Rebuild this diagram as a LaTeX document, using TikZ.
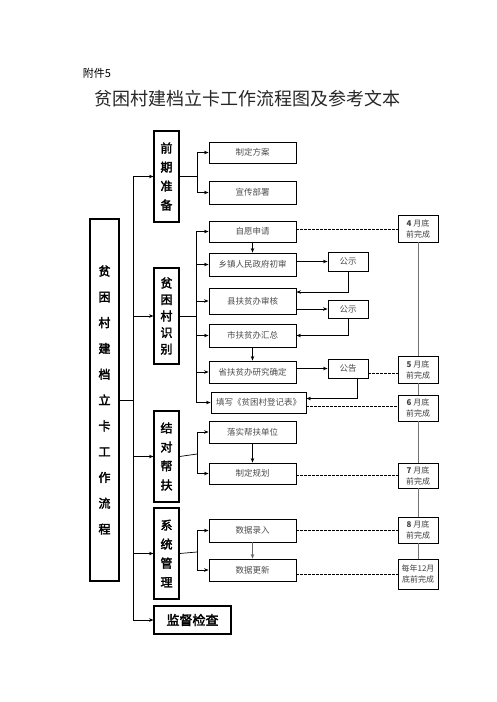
\documentclass[tikz,border=0pt]{standalone}
\usepackage{fontspec}
\newfontfamily\cjk{Noto Sans CJK SC}
\newfontfamily\cjkb[FakeBold=2.5]{Noto Sans CJK SC}
\usetikzlibrary{arrows.meta,calc}
\begin{document}
\begin{tikzpicture}[x=1pt,y=-1pt,
  stagebox/.style={draw,line width=1.1pt,inner sep=0pt,align=center,minimum width=25pt},
  subbox/.style={draw,line width=0.9pt,inner sep=0pt,minimum width=87pt,text=black!70,font=\cjk\fontsize{8.5}{10}\selectfont},
  notebox/.style={draw,line width=0.9pt,inner sep=0pt,minimum width=40pt,text=black!70,font=\cjk\fontsize{8.5}{10}\selectfont},
  timebox/.style={draw,line width=0.9pt,inner sep=0pt,minimum width=40pt,align=center,text=black!75,font=\cjk\fontsize{8}{11}\selectfont},
  conn/.style={line width=0.7pt},
  arr/.style={line width=0.7pt,-{Stealth[length=4.5pt,width=3.5pt]}},
  dashline/.style={line width=0.8pt,dash pattern=on 2.5pt off 1.5pt},
  tline/.style={line width=1pt,black!55}]
\useasboundingbox (0,0) rectangle (496,702);
% header
\node[font=\cjk\fontsize{11}{13}\selectfont] (hdr) at (97,73) {附件5};
\node[font=\cjk\fontsize{18}{20}\selectfont,text=black!85] (title) at (247,99) {贫困村建档立卡工作流程图及参考文本};
% main box
\node[stagebox,minimum width=29pt,minimum height=362pt,font=\cjkb\fontsize{12}{25.8}\selectfont] (big) at (104.5,400) {贫\\困\\村\\建\\档\\立\\卡\\工\\作\\流\\程};
% stages
\node[stagebox,minimum height=91pt,font=\cjkb\fontsize{12}{19}\selectfont] (s1) at (166.5,176.5) {前\\期\\准\\备};
\node[stagebox,minimum height=96pt,font=\cjkb\fontsize{12}{16.5}\selectfont] (s2) at (166.5,316) {贫\\困\\村\\识\\别};
\node[stagebox,minimum height=91pt,font=\cjkb\fontsize{12}{19}\selectfont] (s3) at (166.5,456.5) {结\\对\\帮\\扶};
\node[stagebox,minimum height=91pt,font=\cjkb\fontsize{12}{19}\selectfont] (s4) at (166.5,553.5) {系\\统\\管\\理};
\node[stagebox,minimum width=77pt,minimum height=28pt,font=\cjkb\fontsize{13}{15}\selectfont] (s5) at (192.5,620) {监督检查};
% sub boxes
\node[subbox,minimum height=21pt] (a1) at (252.5,152.5) {制定方案};
\node[subbox,minimum height=23pt] (a2) at (252.5,192.5) {宣传部署};
\node[subbox,minimum height=21pt] (b1) at (252.5,231.5) {自愿申请};
\node[subbox,minimum height=23pt] (b2) at (252.5,264.5) {乡镇人民政府初审};
\node[subbox,minimum height=26pt] (b3) at (252.5,301) {县扶贫办审核};
\node[subbox,minimum height=23pt] (b4) at (252.5,335.5) {市扶贫办汇总};
\node[subbox,minimum height=22pt] (b5) at (252.5,372) {省扶贫办研究确定};
\node[subbox,minimum width=95pt,minimum height=21pt] (b6) at (258.5,402.5) {填写《贫困村登记表》};
\node[subbox,minimum height=22pt] (c1) at (252.5,432) {落实帮扶单位};
\node[subbox,minimum height=21pt] (c2) at (252.5,473.5) {制定规划};
\node[subbox,minimum height=23pt] (d1) at (252.5,530.5) {数据录入};
\node[subbox,minimum height=22pt] (d2) at (252.5,570) {数据更新};
% notices
\node[notebox,minimum height=19pt] (p1) at (348,261.5) {公示};
\node[notebox,minimum height=18pt] (p2) at (348,309) {公示};
\node[notebox,minimum height=19pt] (p3) at (348,368.5) {公告};
% timeline
\node[timebox,minimum height=27pt] (t1) at (418,228.5) {\textbf{4} 月底\\前完成};
\node[timebox,minimum height=27pt] (t2) at (418,369.5) {\textbf{5} 月底\\前完成};
\node[timebox,minimum height=26pt] (t3) at (418,408) {\textbf{6} 月底\\前完成};
\node[timebox,minimum height=25pt] (t4) at (418,475.5) {\textbf{7} 月底\\前完成};
\node[timebox,minimum height=26pt] (t5) at (418,530) {\textbf{8} 月底\\前完成};
\node[timebox,minimum height=30pt] (t6) at (418,574) {每年12月\\底前完成};
% trunk
\coordinate (trTop) at (133,177);
\coordinate (trBot) at (133,620);
\draw[conn] (trTop) -- (trBot);
\draw[conn] (big.east) -- (big.east -| trTop);
\foreach \s in {s1,s2,s3,s4,s5} \draw[arr] (trTop |- \s.west) -- (\s.west);
% branch junctions
\coordinate (j1) at (197,176.5);
\coordinate (j2) at (196,316);
\coordinate (j3) at (197,454);
\coordinate (j4) at (197,552);
\draw[conn] (s1.east) -- (j1);
\draw[conn] (j1 |- a1.west) -- (j1 |- a2.west);
\foreach \t in {a1,a2} \draw[arr] (j1 |- \t.west) -- (\t.west);
\draw[conn] (s2.east) -- (j2);
\draw[conn] (j2 |- b1.west) -- (j2 |- b6.west);
\foreach \t in {b1,b2,b3,b4,b5} \draw[arr] (j2 |- \t.west) -- (\t.west);
\draw[arr] (j2 |- b6.west) -- (b6.west);
\draw[conn] (s3.east) -- (j3);
\draw[conn] (j3 |- c1.west) -- (j3 |- c2.west);
\foreach \t in {c1,c2} \draw[arr] (j3 |- \t.west) -- (\t.west);
\draw[conn] (s4.east) -- (j4);
\draw[conn] (j4 |- d1.west) -- (j4 |- d2.west);
\foreach \t in {d1,d2} \draw[arr] (j4 |- \t.west) -- (\t.west);
% identification chain
\draw[arr] (b1.south) -- (b2.north);
\draw[arr] (b2.east |- p1.west) -- (p1.west);
\draw[arr] (p1.south) |- ([yshift=9pt]b3.east);
\draw[arr] (b3.east |- p2.west) -- (p2.west);
\draw[arr] (p2.south) |- (b4.east);
\draw[arr] (b4.south) -- (b5.north);
\draw[arr] (b5.east |- p3.west) -- (p3.west);
\draw[arr] ([xshift=9pt]p3.south) |- ([yshift=4pt]b6.east);
\draw[arr] (c1.south) -- (c2.north);
\draw[arr,line width=1.2pt,black!60] (d1.south) -- (d2.north);
% dashed to timeline
\draw[dashline] ([yshift=2.5pt]b1.east) -- ([yshift=2.5pt]b1.east -| t1.west);
\draw[dashline] ([yshift=-4.5pt]p3.east) -- ([yshift=-4.5pt]p3.east -| t2.west);
\draw[dashline] ([yshift=-3.5pt]b6.east) -- ([yshift=-3.5pt]b6.east -| t3.west);
\draw[dashline] ([yshift=-1.5pt]c2.east) -- ([yshift=-1.5pt]c2.east -| t4.west);
\draw[dashline] (d1.east) -- (d1.east -| t5.west);
\draw[dashline] ([yshift=-4pt]d2.east) -- ([yshift=-4pt]d2.east -| t6.west);
% timeline
\draw[tline] (t1.south) -- (t2.north);
\draw[tline] (t2.south) -- (t3.north);
\draw[tline] (t3.south) -- (t4.north);
\draw[tline] (t4.south) -- (t5.north);
\draw[tline] (t5.south) -- (t6.north);
\end{tikzpicture}
\end{document}
